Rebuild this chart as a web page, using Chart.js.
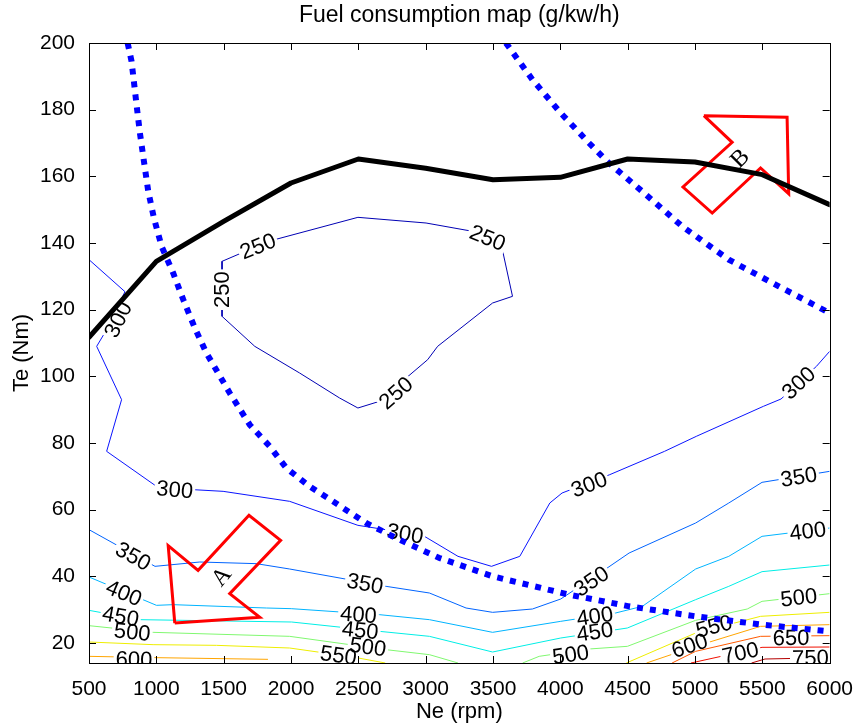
<!DOCTYPE html>
<html>
<head>
<meta charset="utf-8">
<title>Fuel consumption map</title>
<script src="https://cdn.jsdelivr.net/npm/chart.js@4/dist/chart.umd.min.js"></script>
<style>
  html, body { margin: 0; padding: 0; background: #fff; }
  #chart { display: block; }
</style>
</head>
<body>
<canvas id="chart" width="859" height="727"></canvas>
<script>
const xTicks = [500, 1000, 1500, 2000, 2500, 3000, 3500, 4000, 4500, 5000, 5500, 6000];
const yTicks = [20, 40, 60, 80, 100, 120, 140, 160, 180, 200];

// contour lines, [rpm, Nm] pairs
const c250 = [[1488,134.5],[1488,118],[1731,109],[2064,101],[2361,93.5],[2497,90.5],[2657,92.5],[2855,99.5],[3015,105],[3089,109],[3497,122],[3645,124],[3559,140],[3349,143.5],[3003,146],[2497,147.7],[1879,141],[1632,137],[1488,134.5]];
const c300 = [[500,135],[767,125.4],[631,114],[557,109],[742,93],[631,77.5],[1001,67],[1273,66],[1496,65.5],[1990,62.5],[2497,55.3],[2702,54],[2991,52],[3240,46],[3489,43],[3699,46],[3922,62],[4013,65],[4367,70.5],[4774,77.5],[5010,82],[5508,91],[5639,93.2],[5902,103],[6000,107.5]];
const c350 = [[500,54],[990,43],[1323,44.3],[1743,43.8],[1990,42.2],[2706,37],[3028,35],[3300,30.5],[3497,29.2],[3793,30.2],[4003,33.2],[4312,41.5],[4511,47],[5005,56],[5251,62],[5498,68.2],[6000,71.5]];
const c400 = [[500,39.8],[1001,31.3],[1125,31.5],[1817,30.5],[2002,30.3],[2657,28.5],[3028,27],[3497,23.2],[4003,26.5],[4410,29],[4609,31],[5005,42.2],[5251,46],[5498,52],[6000,54.5]];
const c450 = [[500,29.8],[878,27],[2005,26.3],[2657,23.5],[3028,22],[3497,17.3],[4003,21.5],[4498,24.5],[5005,33],[5251,37],[5498,41.4],[6000,43.4]];
const c500a = [[500,25.2],[976,23.2],[1990,22],[2706,18],[3028,16.5],[3240,14]];
const c500b = [[3720,14],[3843,16],[4213,18.2],[4498,19],[5005,26.8],[5388,30.2],[5498,32.5],[6000,34.8]];
const c550a = [[500,20.3],[976,19.5],[1446,19.3],[1990,18.5],[2460,15.8],[2700,14]];
const c550b = [[4490,14],[5005,23],[5487,28],[6000,29.2]];
const c600a = [[500,16],[1001,15.6],[1829,15.1]];
const c600b = [[4640,14],[5005,19],[5487,25],[6000,25.5]];
const c650 = [[4830,14],[5005,17.5],[5487,22],[6000,22.2]];
const c700 = [[4970,14],[5498,18.7],[6000,18.8]];
const c750 = [[5420,14],[5520,15.2],[6000,15.6]];

// where each level is labelled
const lab250 = [[1755,139],[1488,126],[3460,141.5],[2780,95]];
const lab300 = [[717,117],[1137,66],[2847,52.8],[4214,67.5],[5771,98]];
const lab350 = [[828,46],[2550,37.8],[4231,38.5],[5771,69.8]];
const lab400 = [[759,35],[2501,28.5],[4256,28],[5838,53.5]];
const lab450 = [[735,28],[2514,23.8],[4256,23.3]];
const lab500 = [[821,23.3],[2571,18.8],[4077,16.5],[5771,33.6]];
const lab550 = [[2353,16.3],[5141,25]];
const lab600 = [[834,15],[4961,19.2]];
const lab650 = [[5713,21.5]];
const lab700 = [[5338,17]];
const lab750 = [[5857,15.5]];

// maximum torque curve
const torqueRpm = [500, 1000, 1500, 2000, 2500, 3000, 3500, 4000, 4500, 5000, 5500, 6000];
const torqueMax = [111.7, 134.5, 146.5, 158, 165.2, 162.4, 159, 159.7, 165.2, 164.3, 160.5, 151.5];

// dotted boundary curves
const bound1 = [[787,200],[816,194.5],[853,181.5],[878,173],[908,164.5],[940,155.5],[982,147.5],[1039,139],[1125,131],[1200,123],[1286,114.5],[1372,107],[1545,95],[1693,85.5],[1842,79],[1965,72.5],[2138,67],[2311,62.5],[2558,56],[2805,51],[3102,45.5],[3497,40],[4066,34.5],[4511,31],[5005,28],[5498,25.5],[6000,23.5]];
const bound2 = [[3596,200],[3793,189],[4003,179],[4213,170],[4361,164],[4608,155.5],[4905,145],[5251,135],[5622,127],[6000,119]];

// arrow outlines and their letters
const arrowA = [[1137,26],[1088,49.2],[1310,41.8],[1688,58.3],[1923,50.8],[1545,34.8],[1768,27.7],[1137,26]];
const arrowB = [[5066,178.2],[5684,177.7],[5696,154.8],[5487,162.5],[5128,149],[4911,156.8],[5276,170.2],[5066,178.2]];
const arrowText = [['A', 1488, 39.8, -50], ['B', 5338, 165.2, -45]];

const contours = [
  { level: 250, color: '#0000b4', lines: [c250], labels: lab250 },
  { level: 300, color: '#0a14ff', lines: [c300], labels: lab300 },
  { level: 350, color: '#0064ff', lines: [c350], labels: lab350 },
  { level: 400, color: '#00b4ff', lines: [c400], labels: lab400 },
  { level: 450, color: '#00eee6', lines: [c450], labels: lab450 },
  { level: 500, color: '#80f870', lines: [c500a, c500b], labels: lab500 },
  { level: 550, color: '#eeee00', lines: [c550a, c550b], labels: lab550 },
  { level: 600, color: '#ffa500', lines: [c600a, c600b], labels: lab600 },
  { level: 650, color: '#ff5a00', lines: [c650], labels: lab650 },
  { level: 700, color: '#f01000', lines: [c700], labels: lab700 },
  { level: 750, color: '#b40000', lines: [c750], labels: lab750 }
];

const sans = '"Liberation Sans", Arial, sans-serif';
const labelFont = '22px ' + sans;
const pts = arr => arr.map(([x, y]) => ({ x, y }));

const datasets = [
  { data: torqueRpm.map((x, i) => ({ x, y: torqueMax[i] })), borderColor: '#000', borderWidth: 5,
    borderCapStyle: 'round', borderJoinStyle: 'round' },
  { data: pts(bound1), borderColor: '#0000ff', borderWidth: 6, borderDash: [6, 7], clip: 0 },
  { data: pts(bound2), borderColor: '#0000ff', borderWidth: 6, borderDash: [6, 7], clip: 0 },
  { data: pts(arrowA), borderColor: '#ff0000', borderWidth: 3, borderJoinStyle: 'miter' },
  { data: pts(arrowB), borderColor: '#ff0000', borderWidth: 3, borderJoinStyle: 'miter' }
];
const firstContour = datasets.length;
contours.forEach(c => c.lines.forEach(line => {
  datasets.push({ data: pts(line), borderColor: c.color, borderWidth: 1, clip: 0, level: c.level });
}));
datasets.forEach(d => { d.showLine = true; d.pointRadius = 0; d.tension = 0; });

function toPx(chart, p) {
  return [chart.scales.x.getPixelForValue(p[0]), chart.scales.y.getPixelForValue(p[1])];
}

function segDist(px, py, x1, y1, x2, y2) {
  const dx = x2 - x1, dy = y2 - y1;
  const len2 = dx * dx + dy * dy || 1;
  const t = Math.max(0, Math.min(1, ((px - x1) * dx + (py - y1) * dy) / len2));
  return Math.hypot(px - (x1 + t * dx), py - (y1 + t * dy));
}

// label boxes follow the direction of the nearest segment of their own level
function labelBoxes(chart, level) {
  const c = contours.find(s => s.level === level);
  const ctx = chart.ctx;
  ctx.save();
  ctx.font = labelFont;
  const w = ctx.measureText(String(level)).width;
  ctx.restore();
  return c.labels.map(l => {
    const [cx, cy] = toPx(chart, l);
    let best = Infinity, ang = 0;
    c.lines.forEach(line => {
      for (let i = 0; i < line.length - 1; i++) {
        const [x1, y1] = toPx(chart, line[i]);
        const [x2, y2] = toPx(chart, line[i + 1]);
        const d = segDist(cx, cy, x1, y1, x2, y2);
        if (d < best) { best = d; ang = Math.atan2(y2 - y1, x2 - x1); }
      }
    });
    if (ang >= Math.PI / 2) ang -= Math.PI;
    else if (ang < -Math.PI / 2) ang += Math.PI;
    return { cx, cy, ang, w: w + 4, h: 18, text: String(level) };
  });
}

const contourLabels = {
  id: 'contourLabels',
  beforeDatasetDraw(chart, args) {
    const lvl = chart.data.datasets[args.index].level;
    if (lvl === undefined) return;
    const ctx = chart.ctx;
    ctx.save();
    ctx.beginPath();
    ctx.rect(0, 0, chart.width, chart.height);
    labelBoxes(chart, lvl).forEach(b => {
      const cs = Math.cos(b.ang), sn = Math.sin(b.ang);
      const hw = b.w / 2, hh = b.h / 2;
      const corners = [[-hw, -hh], [hw, -hh], [hw, hh], [-hw, hh]]
        .map(([u, v]) => [b.cx + u * cs - v * sn, b.cy + u * sn + v * cs]);
      ctx.moveTo(corners[0][0], corners[0][1]);
      corners.slice(1).forEach(p => ctx.lineTo(p[0], p[1]));
      ctx.closePath();
    });
    ctx.clip('evenodd');
  },
  afterDatasetDraw(chart, args) {
    if (chart.data.datasets[args.index].level === undefined) return;
    const ctx = chart.ctx;
    ctx.restore();
    if (args.index !== firstContour) return;
    // contours are done; write the level values before the overlays
    const a = chart.chartArea;
    ctx.save();
    ctx.beginPath();
    ctx.rect(a.left, a.top, a.right - a.left, a.bottom - a.top);
    ctx.clip();
    ctx.font = labelFont;
    ctx.fillStyle = '#000';
    ctx.textAlign = 'center';
    ctx.textBaseline = 'middle';
    contours.forEach(c => labelBoxes(chart, c.level).forEach(b => {
      ctx.save();
      ctx.translate(b.cx, b.cy);
      ctx.rotate(b.ang);
      ctx.fillText(b.text, 0, 1);
      ctx.restore();
    }));
    ctx.restore();
  },
  afterDatasetsDraw(chart) {
    const ctx = chart.ctx;
    ctx.save();
    ctx.font = '24px "Liberation Serif", "Times New Roman", serif';
    ctx.fillStyle = '#000';
    ctx.textAlign = 'center';
    ctx.textBaseline = 'middle';
    arrowText.forEach(([t, x, y, deg]) => {
      const [px, py] = toPx(chart, [x, y]);
      ctx.save();
      ctx.translate(px, py);
      ctx.rotate(deg * Math.PI / 180);
      ctx.fillText(t, 0, 0);
      ctx.restore();
    });
    ctx.restore();
  }
};

// box round the axes with inward tick marks on all four sides
const axesBox = {
  id: 'axesBox',
  afterDraw(chart) {
    const { ctx, chartArea: a, scales } = chart;
    const len = 7;
    ctx.save();
    ctx.strokeStyle = '#000';
    ctx.lineWidth = 1;
    ctx.beginPath();
    scales.x.ticks.forEach(t => {
      const x = Math.round(scales.x.getPixelForValue(t.value)) + 0.5;
      ctx.moveTo(x, a.bottom); ctx.lineTo(x, a.bottom - len);
      ctx.moveTo(x, a.top); ctx.lineTo(x, a.top + len);
    });
    scales.y.ticks.forEach(t => {
      const y = Math.round(scales.y.getPixelForValue(t.value)) + 0.5;
      ctx.moveTo(a.left, y); ctx.lineTo(a.left + len, y);
      ctx.moveTo(a.right, y); ctx.lineTo(a.right - len, y);
    });
    ctx.stroke();
    ctx.strokeRect(Math.round(a.left) + 0.5, Math.round(a.top) + 0.5,
      Math.round(a.right - a.left), Math.round(a.bottom - a.top));
    ctx.restore();
  }
};

const tickFont = { family: sans, size: 21 };
const axisTitleFont = { family: sans, size: 22 };

new Chart(document.getElementById('chart').getContext('2d'), {
  type: 'scatter',
  data: { datasets },
  options: {
    responsive: false,
    animation: false,
    devicePixelRatio: 1,
    events: [],
    layout: { padding: { left: 0, right: 29, top: 0, bottom: 0 } },
    plugins: {
      legend: { display: false },
      tooltip: { enabled: false },
      title: {
        display: true,
        fullSize: false,
        text: 'Fuel consumption map (g/kw/h)',
        color: '#000',
        font: { family: sans, size: 23, weight: 'normal' },
        padding: { top: 2, bottom: 13.4 }
      }
    },
    scales: {
      x: {
        type: 'linear',
        min: 500,
        max: 6000,
        grid: { display: false },
        border: { display: false },
        afterBuildTicks: s => { s.ticks = xTicks.map(v => ({ value: v })); },
        afterFit: s => { s.height = 64; },
        ticks: { color: '#000', font: tickFont, padding: 6, maxRotation: 0, callback: v => String(v) },
        title: { display: true, text: 'Ne (rpm)', color: '#000', font: axisTitleFont, padding: { top: 0, bottom: 2 } }
      },
      y: {
        type: 'linear',
        min: 14,
        max: 200,
        grid: { display: false },
        border: { display: false },
        afterBuildTicks: s => { s.ticks = yTicks.map(v => ({ value: v })); },
        afterFit: s => { s.width = 89; },
        ticks: { color: '#000', font: tickFont, padding: 6, callback: v => String(v) },
        title: { display: true, text: 'Te (Nm)', color: '#000', font: axisTitleFont, padding: { top: 9, bottom: 0 } }
      }
    }
  },
  plugins: [contourLabels, axesBox]
});
</script>
</body>
</html>
